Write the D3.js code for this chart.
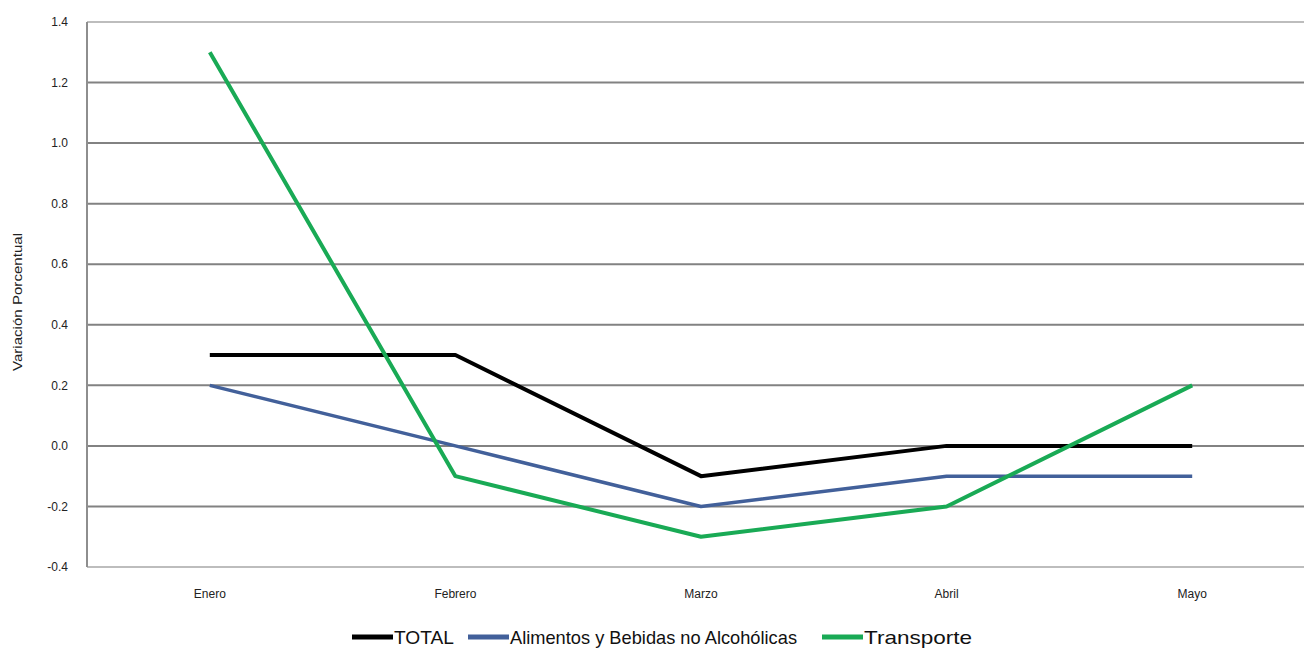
<!DOCTYPE html>
<html>
<head>
<meta charset="utf-8">
<script src="https://cdn.jsdelivr.net/npm/d3@7"></script>
<style>
  body { margin: 0; background: #fff; }
  svg { display: block; font-family: "Liberation Sans", Arial, sans-serif; }
</style>
</head>
<body>
<svg width="1304" height="649"></svg>
<script>
// Months and series values (variación porcentual)
const months = ["Enero", "Febrero", "Marzo", "Abril", "Mayo"];
const total = [0.3, 0.3, -0.1, 0.0, 0.0];
const alimentos = [0.2, 0.0, -0.2, -0.1, -0.1];
const transporte = [1.3, -0.1, -0.3, -0.2, 0.2];
const yTicks = [-0.4, -0.2, 0.0, 0.2, 0.4, 0.6, 0.8, 1.0, 1.2, 1.4];

const series = [
  { name: "TOTAL", values: total, color: "#000000", width: 4 },
  { name: "Alimentos y Bebidas no Alcohólicas", values: alimentos, color: "#42609a", width: 3.5 },
  { name: "Transporte", values: transporte, color: "#19aa55", width: 4 }
];

const svg = d3.select("svg");
const plotLeft = 87, plotRight = 1315, plotTop = 22, plotBottom = 567;

const x = d3.scaleBand().domain(months).range([plotLeft, plotRight]);
const y = d3.scaleLinear().domain([-0.4, 1.4]).range([plotBottom, plotTop]);

// Gridlines
svg.append("g")
  .selectAll("line")
  .data(yTicks)
  .join("line")
    .attr("x1", plotLeft)
    .attr("x2", plotRight)
    .attr("y1", d => y(d))
    .attr("y2", d => y(d))
    .attr("stroke", (d, i) => (i === 0 || i === yTicks.length - 1) ? "#bdbdbd" : "#828282")
    .attr("stroke-width", 2);

// Y axis line
svg.append("line")
  .attr("x1", plotLeft).attr("x2", plotLeft)
  .attr("y1", plotTop).attr("y2", plotBottom)
  .attr("stroke", "#8e8e8e")
  .attr("stroke-width", 2);

// Y tick labels
svg.append("g")
  .selectAll("text")
  .data(yTicks)
  .join("text")
    .attr("x", 68)
    .attr("y", d => y(d))
    .attr("dy", "0.35em")
    .attr("text-anchor", "end")
    .attr("font-size", 12)
    .attr("fill", "#222")
    .text(d => d.toFixed(1));

// X labels
svg.append("g")
  .selectAll("text")
  .data(months)
  .join("text")
    .attr("x", d => x(d) + x.bandwidth() / 2)
    .attr("y", 598)
    .attr("text-anchor", "middle")
    .attr("font-size", 12)
    .attr("fill", "#222")
    .text(d => d);

// Y axis title
svg.append("text")
  .attr("transform", "translate(22,302) rotate(-90)")
  .attr("text-anchor", "middle")
  .attr("font-size", 12)
  .attr("fill", "#222")
  .attr("textLength", 138)
  .attr("lengthAdjust", "spacingAndGlyphs")
  .text("Variación Porcentual");

// Lines
const line = d3.line()
  .x((d, i) => x(months[i]) + x.bandwidth() / 2)
  .y(d => y(d));

svg.append("g")
  .selectAll("path")
  .data(series)
  .join("path")
    .attr("fill", "none")
    .attr("stroke", d => d.color)
    .attr("stroke-width", d => d.width)
    .attr("stroke-linejoin", "round")
    .attr("d", d => line(d.values));

// Legend
const legendX = [352, 468, 822];
const legendTextLen = [60, 287, 108];
const legend = svg.append("g")
  .selectAll("g")
  .data(series)
  .join("g")
    .attr("transform", (d, i) => `translate(${legendX[i]},637)`);

legend.append("line")
  .attr("x1", 0).attr("x2", 41)
  .attr("stroke", d => d.color)
  .attr("stroke-width", 5);

legend.append("text")
  .attr("x", 42)
  .attr("dy", "0.35em")
  .attr("font-size", 19)
  .attr("fill", "#111")
  .attr("textLength", (d, i) => legendTextLen[i])
  .attr("lengthAdjust", "spacingAndGlyphs")
  .text(d => d.name);
</script>
</body>
</html>
